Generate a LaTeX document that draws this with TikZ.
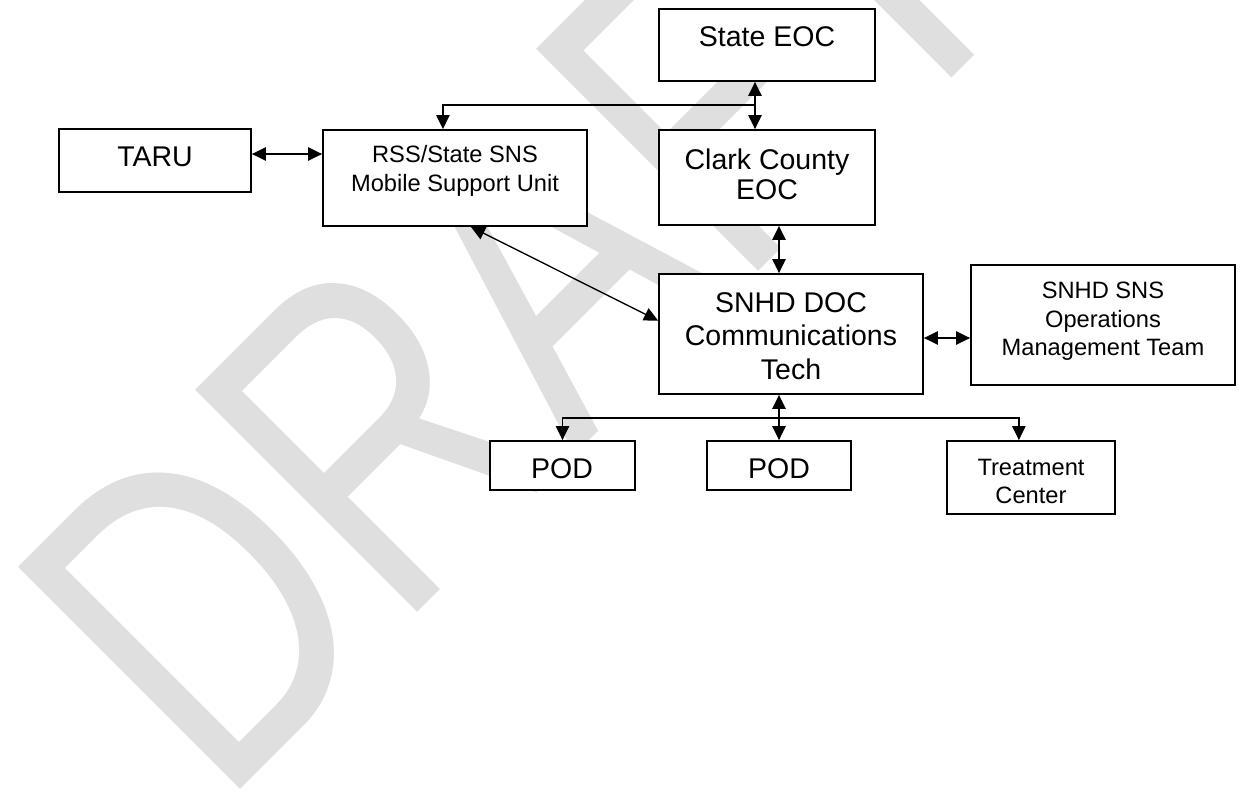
\documentclass[tikz,border=0pt]{standalone}
\usepackage{fontspec}
\setmainfont{Liberation Sans}
\usetikzlibrary{arrows.meta,fit,calc}
\begin{document}
\begin{tikzpicture}[x=0.6pt,y=-0.6pt,
  >={Triangle[length=8.4pt,width=8pt]},
  box/.style={draw=black, line width=1.1pt, fill=white, inner sep=0pt},
  big/.style={font=\fontsize{17.1}{20.1}\selectfont, align=center, inner sep=0pt},
  small/.style={font=\fontsize{14.2}{17}\selectfont, align=center, inner sep=0pt},
  link/.style={line width=0.8pt, draw=black},
  wmark/.style={anchor=base west, inner sep=0pt, rotate=45, xscale=0.76,
    text=gray!25, font=\fontsize{274}{274}\selectfont}]
\useasboundingbox (0,0) rectangle (1241,793);
\fill[white] (0,0) rectangle (1241,793);
% watermark
\begin{scope}
\clip (0,0) rectangle (1241,793);
\node[wmark] (wm) at (220,810) {DRAFT};
\end{scope}
% boxes
\node[box, fit={(659,9)(875,81)}] (state) {};
\node[box, fit={(59,129)(251,192)}] (taru) {};
\node[box, fit={(323,130)(587,226)}] (rss) {};
\node[box, fit={(659,130)(875,225)}] (clark) {};
\node[box, fit={(659,274)(923,394)}] (doc) {};
\node[box, fit={(971,265)(1235,385)}] (sns) {};
\node[box, fit={(490,441)(635,490)}] (pod1) {};
\node[box, fit={(707,441)(851,490)}] (pod2) {};
\node[box, fit={(947,441)(1115,514)}] (treat) {};
% texts
\node[big] (stateT) at (767,37) {State EOC};
\node[big] (taruT) at (155,157) {TARU};
\node[small, anchor=north] (rssT) at (455,145.5) {RSS/State SNS\\Mobile Support Unit};
\node[big, font=\fontsize{17.1}{18}\selectfont, anchor=north] (clarkT) at (767,148.5) {Clark County\\EOC};
\node[big, anchor=north] (docT) at (791,292) {SNHD DOC\\Communications\\Tech};
\node[small, anchor=north] (snsT) at (1103,282) {SNHD SNS\\Operations\\Management Team};
\node[big] (pod1T) at (562,469) {POD};
\node[big] (pod2T) at (779,469) {POD};
\node[small, anchor=north] (treatT) at (1031,458.5) {Treatment\\Center};
% connectors
\coordinate (j1) at (755,105);
\draw[link,<->] (state.south -| j1) -- (clark.north -| j1);
\draw[link,->] (j1) -| ($(rss.north west)!0.4545!(rss.north east)$);
\coordinate (ty) at (287,154);
\draw[link,<->] (taru.east |- ty) -- (rss.west |- ty);
\draw[link,<->] ($(rss.south west)!0.56!(rss.south east)$) -- ($(doc.north west)!0.39!(doc.south west)$);
\coordinate (c2) at (779,250);
\draw[link,<->] (clark.south -| c2) -- (doc.north -| c2);
\coordinate (sy) at (947,338);
\draw[link,<->] (doc.east |- sy) -- (sns.west |- sy);
\coordinate (j2) at (779,418);
\draw[link,<->] (doc.south -| j2) -- (pod2.north -| j2);
\draw[link,->] (j2) -| (pod1.north);
\draw[link,->] (j2) -| ($(treat.north west)!0.4286!(treat.north east)$);
\end{tikzpicture}
\end{document}
